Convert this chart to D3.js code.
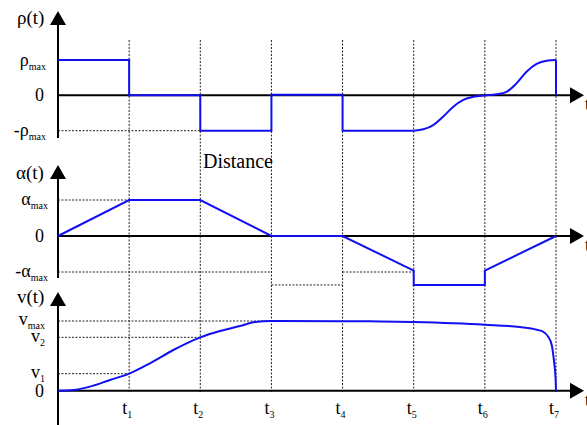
<!DOCTYPE html>
<html><head><meta charset="utf-8">
<script src="https://cdn.jsdelivr.net/npm/d3@7"></script>
<style>body{margin:0;background:#fff}svg{display:block}</style>
</head><body><svg id="c" width="587" height="425"></svg>
<script>
// ---- data ----
const timeTicks = [1,2,3,4,5,6,7];
const tickSubs = ["1","2","3","4","5","6","7"];
// rho(t): piecewise steps (value in units of rho_max)
const rhoSteps = [[0,1],[1,1],[1,0],[2,0],[2,-1],[3,-1],[3,0.02],[4,0.02],[4,-1],[5,-1]];
const rhoCurve = [[5,-1],[5.135,-0.96],[5.275,-0.84],[5.416,-0.6],[5.557,-0.32],[5.697,-0.13],[5.838,-0.04],[6,0],[6.163,0.03],[6.304,0.1],[6.445,0.34],[6.586,0.67],[6.727,0.89],[6.87,0.98],[7,1]];
const rhoDrop = [[7,1],[7,0]];
// alpha(t) in units of alpha_max
const alphaLow = -1.36;
const alphaPts = [[0,0],[1,1],[2,1],[3,0],[4,0],[5,-0.96],[5,alphaLow],[6,alphaLow],[6,-0.96],[7,0]];
// v(t) in units of v_max
const v1 = 0.244, v2 = 0.766;
const vPts = [[0,0],[0.215,0.01],[0.45,0.058],[0.731,0.154],[1,0.244],[1.293,0.393],[1.621,0.584],[2,0.766],[2.277,0.857],[2.558,0.928],[2.77,0.985],[3,1],[4,0.998],[4.53,0.994],[5,0.985],[6,0.947],[6.49,0.913],[6.73,0.875],[6.82,0.846],[6.89,0.774],[6.94,0.656],[6.97,0.441],[6.995,0.155],[7,0]];
// guide lines: [t0, t1, level]
const rhoGuides = [[0,2,-1]];
const alphaGuides = [[0,1,1],[0,3,-1],[4,5,-1],[3,4,alphaLow]];
const vGuides = [[0,3,1],[0,2,v2],[0,1,v1]];

// ---- layout ----
const FONT = '"Liberation Serif"';
const FS = 18, SUB = 10;
const svg = d3.select("#c");
const x = d3.scaleLinear().domain([0,7]).range([58,556]);
const yR = d3.scaleLinear().domain([-1,1]).range([130.7,60]);
const yA = d3.scaleLinear().domain([-1,1]).range([272,200]);
const yV = d3.scaleLinear().domain([0,1]).range([390.7,321]);
const blue = "#1010f0";

function txt(sel){ return sel.style("font-family",FONT).attr("fill","#000"); }

// vertical dashed guide lines at t_i
svg.append("g").selectAll("line").data(timeTicks).join("line")
  .attr("x1",d=>x(d)).attr("x2",d=>x(d)).attr("y1",40).attr("y2",393)
  .attr("stroke","#222").attr("stroke-width",1).attr("stroke-dasharray","2,1.5");

function guides(data, y){
  svg.append("g").selectAll("line").data(data).join("line")
    .attr("x1",d=>x(d[0])).attr("x2",d=>x(d[1])).attr("y1",d=>y(d[2])).attr("y2",d=>y(d[2]))
    .attr("stroke","#222").attr("stroke-width",1).attr("stroke-dasharray","2,1.5");
}
guides(rhoGuides,yR); guides(alphaGuides,yA); guides(vGuides,yV);

// axes
function axes(y0, top, bottom){
  svg.append("line").attr("x1",x(0)).attr("x2",572).attr("y1",y0).attr("y2",y0).attr("stroke","#000").attr("stroke-width",2);
  svg.append("path").attr("d",`M570,${y0-8}L584,${y0}L570,${y0+8}Z`).attr("fill","#000");
  svg.append("line").attr("x1",x(0)).attr("x2",x(0)).attr("y1",top+12).attr("y2",bottom).attr("stroke","#000").attr("stroke-width",2);
  svg.append("path").attr("d",`M${x(0)-8},${top+14}L${x(0)},${top}L${x(0)+8},${top+14}Z`).attr("fill","#000");
  txt(svg.append("text")).attr("x",585).attr("y",y0+15).attr("font-size",FS).text("t");
}
axes(yR(0), 11, 138);
axes(yA(0), 165, 278);
axes(yV(0), 292, 425);

// curves
function draw(pts, y, curve){
  svg.append("path").datum(pts)
    .attr("d", d3.line().x(d=>x(d[0])).y(d=>y(d[1])).curve(curve)(pts))
    .attr("fill","none").attr("stroke",blue).attr("stroke-width",2).attr("stroke-linejoin","miter");
}
draw(rhoSteps, yR, d3.curveLinear);
draw(rhoCurve, yR, d3.curveMonotoneX);
draw(rhoDrop, yR, d3.curveLinear);
draw(alphaPts, yA, d3.curveLinear);
draw(vPts, yV, d3.curveMonotoneX);

// labels
function label(xr, yb, main, sub){
  const t = txt(svg.append("text")).attr("x",xr).attr("y",yb).attr("text-anchor","end").attr("font-size",FS);
  t.append("tspan").text(main);
  if(sub){ t.append("tspan").attr("font-size",SUB).attr("dy",4).text(sub); }
}
function title(xl, yb, s){ txt(svg.append("text")).attr("x",xl).attr("y",yb).attr("font-size",FS+1).text(s); }
title(17, 24, "ρ(t)");
label(46, 66, "ρ", "max");
label(44, 101, "0", null);
label(46, 136, "-ρ", "max");

title(16, 179, "α(t)");
label(48, 205, "α", "max");
label(44, 242, "0", null);
label(48, 277, "-α", "max");

title(17, 303, "v(t)");
label(45, 325, "v", "max");
label(45, 342, "v", "2");
label(45, 378, "v", "1");
label(44, 397, "0", null);

txt(svg.append("text")).attr("x",203).attr("y",168).attr("font-size",20).text("Distance");

// time tick labels
const tl = txt(svg.append("g").selectAll("text").data(timeTicks).join("text"))
  .attr("x",d=>x(d)-2).attr("y",414).attr("text-anchor","middle").attr("font-size",FS);
tl.append("tspan").text("t");
tl.append("tspan").attr("font-size",SUB).attr("dy",4).text((d,i)=>tickSubs[i]);
</script></body></html>
